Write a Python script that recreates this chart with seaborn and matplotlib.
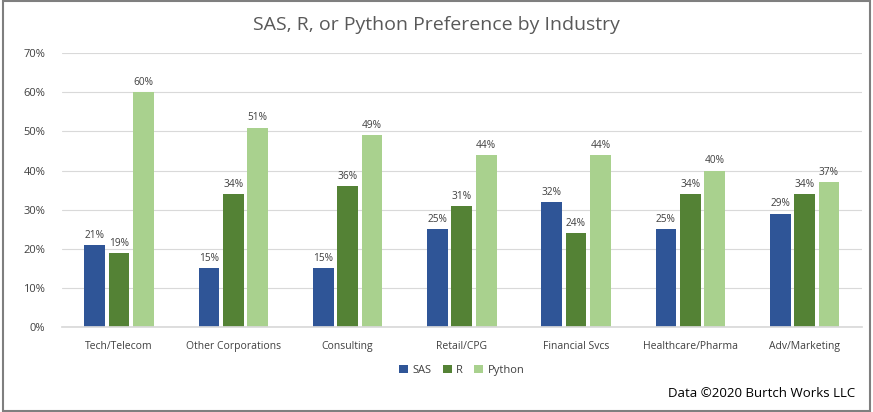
import matplotlib
matplotlib.use("Agg")
import matplotlib.pyplot as plt
import seaborn as sns
import pandas as pd
from matplotlib.patches import Rectangle

industries = ["Tech/Telecom", "Other Corporations", "Consulting", "Retail/CPG",
              "Financial Svcs", "Healthcare/Pharma", "Adv/Marketing"]
sas = [21, 15, 15, 25, 32, 25, 29]
r_vals = [19, 34, 36, 31, 24, 34, 34]
python = [60, 51, 49, 44, 44, 40, 37]
languages = ["SAS", "R", "Python"]
colors = ["#2F5597", "#548235", "#A9D18E"]
yticks = [0, 10, 20, 30, 40, 50, 60, 70]

rows = []
for i, ind in enumerate(industries):
    for lang, vals in zip(languages, [sas, r_vals, python]):
        rows.append({"Industry": ind, "Language": lang, "Value": vals[i]})
df = pd.DataFrame(rows)

sns.set_theme(style="white")
plt.rcParams["font.family"] = ["Open Sans", "DejaVu Sans"]

fig = plt.figure(figsize=(8.73, 4.12), dpi=100)
ax = fig.add_axes([0.071, 0.206, 0.916, 0.665])

sns.barplot(data=df, x="Industry", y="Value", hue="Language",
            palette=colors, width=0.64, gap=0.15, ax=ax,
            saturation=1, legend=True, linewidth=0)

for cont in ax.containers:
    ax.bar_label(cont, labels=[f"{int(v)}%" for v in cont.datavalues],
                 padding=3, fontsize=7.3, color="#404040")

ax.set_ylim(0, 70)
ax.set_yticks(yticks)
ax.set_yticklabels([f"{t}%" for t in yticks], fontsize=8, color="#404040")
ax.tick_params(axis="x", labelsize=7.5, colors="#404040", pad=4)
ax.tick_params(axis="y", pad=6)
ax.set_xlabel("")
ax.set_ylabel("")
ax.grid(axis="y", color="#D9D9D9", linewidth=0.8)
ax.set_axisbelow(True)
for s in ["top", "right", "left"]:
    ax.spines[s].set_visible(False)
ax.spines["bottom"].set_color("#D9D9D9")
ax.set_xlim(-0.5, 6.5)

fig.text(0.5, 0.94, "SAS, R, or Python Preference by Industry",
         ha="center", va="center", fontsize=14, color="#595959")

ax.legend(loc="upper center", bbox_to_anchor=(0.5, -0.1), ncol=3,
          frameon=False, fontsize=8, handlelength=0.8, handleheight=0.8,
          columnspacing=1.0, handletextpad=0.4, labelcolor="#404040")

fig.text(0.98, 0.045, "Data ©2020 Burtch Works LLC", ha="right", va="center",
         fontsize=9.5, color="#000000")

fig.patches.append(Rectangle((0.003, 0.003), 0.994, 0.994, transform=fig.transFigure,
                             fill=False, edgecolor="#7F7F7F", linewidth=1.5))

fig.savefig("out.png", dpi=100)
